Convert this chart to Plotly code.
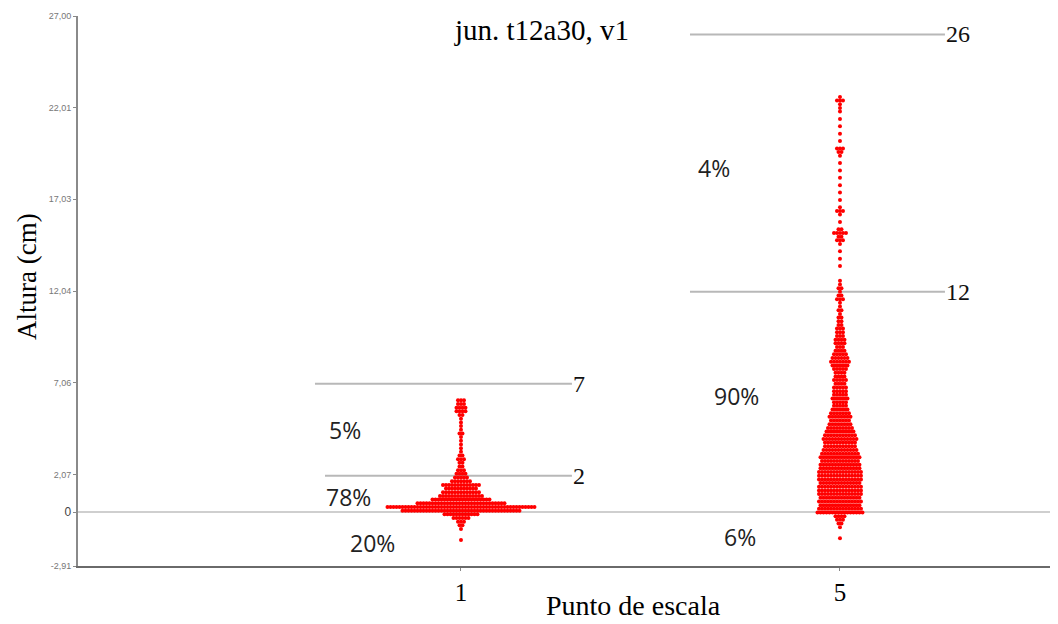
import plotly.graph_objects as go

# ---------------- data ----------------
title_text = "jun. t12a30, v1"
x_title = "Punto de escala"
y_title = "Altura (cm)"

categories = [1, 5]
category_labels = ["1", "5"]

y_tick_values = [27.00, 22.01, 17.03, 12.04, 7.06, 2.07, 0, -2.91]
y_tick_labels = ["27,00", "22,01", "17,03", "12,04", "7,06", "2,07", "0", "-2,91"]

# swarm read as a histogram: height level (cm) and number of points at that level
p1_levels = [6.1, 5.9, 5.7, 5.5, 5.3, 5.1, 4.9, 4.7, 4.5, 4.3, 4.1, 3.9, 3.7, 3.5, 3.3,
             3.1, 2.9, 2.7, 2.5, 2.3, 2.1, 1.9, 1.7, 1.5, 1.3, 1.1, 0.9, 0.7, 0.5,
             0.3, 0.1, -0.1, -0.3, -0.5, -0.7, -0.9, -1.5]
p1_counts = [3, 3, 4, 4, 2, 1, 1, 1, 1, 2, 1, 1, 1, 1, 1,
             2, 3, 2, 2, 3, 4, 5, 7, 13, 11, 13, 15, 20, 30,
             50, 40, 12, 6, 3, 2, 1, 1]

p5_levels = [22.6, 22.4, 22.2, 22.0, 21.8, 21.4, 21.0, 20.6, 20.2, 19.8, 19.6, 19.4,
             19.0, 18.6, 18.2, 17.8, 17.4, 17.0, 16.6, 16.4, 16.2, 15.8, 15.4, 15.2,
             15.0, 14.8, 14.6, 14.2, 13.8, 13.4, 12.6, 12.4, 12.2, 12.0, 11.8, 11.6,
             11.4, 11.2, 11.0, 10.8, 10.6, 10.4, 10.2, 10.0, 9.8, 9.6, 9.4, 9.2, 9.0,
             8.8, 8.6, 8.4, 8.2, 8.0, 7.8, 7.6, 7.4, 7.2, 7.0, 6.8, 6.6, 6.4, 6.2, 6.0,
             5.8, 5.6, 5.4, 5.2, 5.0, 4.8, 4.6, 4.4, 4.2, 4.0, 3.8, 3.6, 3.4, 3.2, 3.0,
             2.8, 2.6, 2.4, 2.2, 2.0, 1.8, 1.6, 1.4, 1.2, 1.0, 0.8, 0.6, 0.4, 0.2, 0.0,
             -0.2, -0.4, -0.6, -0.8, -1.4]
p5_counts = [1, 3, 1, 1, 1, 1, 1, 1, 1, 3, 2, 1,
             1, 1, 1, 1, 1, 1, 1, 3, 1, 1, 2, 5,
             2, 3, 1, 1, 1, 1, 1, 1, 2, 1, 2, 3,
             1, 1, 2, 1, 2, 2, 2, 3, 3, 3, 4, 4, 3,
             4, 5, 6, 7, 6, 5, 4, 4, 5, 4, 5, 5, 5, 6, 5,
             5, 6, 7, 8, 7, 8, 9, 10, 11, 12, 11, 11, 12, 13, 14,
             13, 14, 14, 15, 15, 15, 14, 15, 15, 15, 14, 15, 14, 15, 16,
             4, 3, 2, 1, 1]

thresholds_p1 = [7, 2]
thresholds_p5 = [26, 12]

pct_p1 = ["5%", "78%", "20%"]
pct_p5 = ["4%", "90%", "6%"]

# ---------------- layout geometry ----------------
# page has an 8px body margin; plot area in page pixels: x 78..1058, y 16..566
BODY = 8
PL, PR, PT, PB = 78, 1058, 16, 566
W, H = 1058 - BODY, 624 - BODY
ML, MR, MT = PL - BODY, 0, PT - BODY
MB = H - MT - (PB - PT)
x_range = [-3.042, 7.301]
y_range = [-2.91, 27.0]
px_per_x = (PR - PL) / (x_range[1] - x_range[0])
dot_gap = 3.0 / px_per_x  # horizontal spacing of swarm dots (data units)


def paper_x(px):
    return (px - PL) / (PR - PL)


def paper_y(py):
    return (PB - py) / (PB - PT)


def swarm(center, levels, counts):
    xs, ys = [], []
    for lvl, n in zip(levels, counts):
        for i in range(n):
            xs.append(center + (i - (n - 1) / 2) * dot_gap)
            ys.append(lvl)
    return xs, ys


fig = go.Figure()
for cat, lv, ct in [(categories[0], p1_levels, p1_counts), (categories[1], p5_levels, p5_counts)]:
    xs, ys = swarm(cat, lv, ct)
    fig.add_trace(go.Scatter(x=xs, y=ys, mode="markers",
                             marker=dict(color="#ff0000", size=4, line=dict(width=0)),
                             showlegend=False, hoverinfo="y"))

# threshold lines + labels
line_specs = [
    (categories[0], thresholds_p1[0], -1.541, 1.171),
    (categories[0], thresholds_p1[1], -1.435, 1.171),
    (categories[1], thresholds_p5[0], -1.583, 1.108),
    (categories[1], thresholds_p5[1], -1.583, 1.108),
]
annotations = []
shapes = []
for cat, th, lo, hi in line_specs:
    shapes.append(dict(type="line", xref="x", yref="y", x0=cat + lo, x1=cat + hi,
                       y0=th, y1=th, line=dict(color="#b8b8b8", width=2), layer="below"))
    annotations.append(dict(x=cat + hi, y=th, xref="x", yref="y", text=str(th),
                            showarrow=False, xanchor="left", yanchor="middle", xshift=-1,
                            font=dict(family="Liberation Serif", size=24, color="#111")))

# percentage labels
pct_pos_p1 = [(-1.224, 4.49), (-1.192, 0.84), (-0.939, -1.66)]
pct_pos_p5 = [(-1.330, 18.73), (-1.087, 6.34), (-1.055, -1.33)]
for cat, labels, pos in [(categories[0], pct_p1, pct_pos_p1), (categories[1], pct_p5, pct_pos_p5)]:
    for lab, (dx, yy) in zip(labels, pos):
        annotations.append(dict(x=cat + dx, y=yy, xref="x", yref="y", text=lab,
                                showarrow=False, xanchor="center", yanchor="middle",
                                font=dict(family="Open Sans", size=23, color="#222")))

# title and axis titles
annotations.append(dict(x=paper_x(541), y=paper_y(30), xref="paper", yref="paper",
                        text=title_text, showarrow=False, xanchor="center", yanchor="middle",
                        font=dict(family="Liberation Serif", size=29, color="#000")))
annotations.append(dict(x=paper_x(633), y=paper_y(605), xref="paper", yref="paper",
                        text=x_title, showarrow=False, xanchor="center", yanchor="middle",
                        font=dict(family="Liberation Serif", size=28, color="#000")))
annotations.append(dict(x=paper_x(27), y=paper_y(277), xref="paper", yref="paper",
                        text=y_title, showarrow=False, textangle=-90,
                        xanchor="center", yanchor="middle",
                        font=dict(family="Liberation Serif", size=27, color="#000")))

y_tick_text = [("<span style='font-size:12px;color:#444'>%s</span>" % t) if v == 0 else t
               for v, t in zip(y_tick_values, y_tick_labels)]

fig.update_layout(
    width=W, height=H,
    margin=dict(l=ML, r=MR, t=MT, b=MB),
    paper_bgcolor="white", plot_bgcolor="white",
    shapes=shapes, annotations=annotations,
    showlegend=False,
    xaxis=dict(range=x_range, tickmode="array", tickvals=categories, ticktext=category_labels,
               showgrid=False, zeroline=False, showline=True, linecolor="#6a6a6a", linewidth=2,
               ticks="outside", ticklen=3, tickcolor="#888",
               tickfont=dict(family="Liberation Serif", size=25, color="#000")),
    yaxis=dict(range=y_range, tickmode="array", tickvals=y_tick_values, ticktext=y_tick_text,
               showgrid=False, zeroline=True, zerolinecolor="#cfcfcf", zerolinewidth=2,
               showline=True, linecolor="#8a8a8a", linewidth=2,
               ticks="outside", ticklen=3, tickcolor="#888",
               tickfont=dict(family="Liberation Sans", size=9, color="#777")),
)

fig.write_html("out.html")
